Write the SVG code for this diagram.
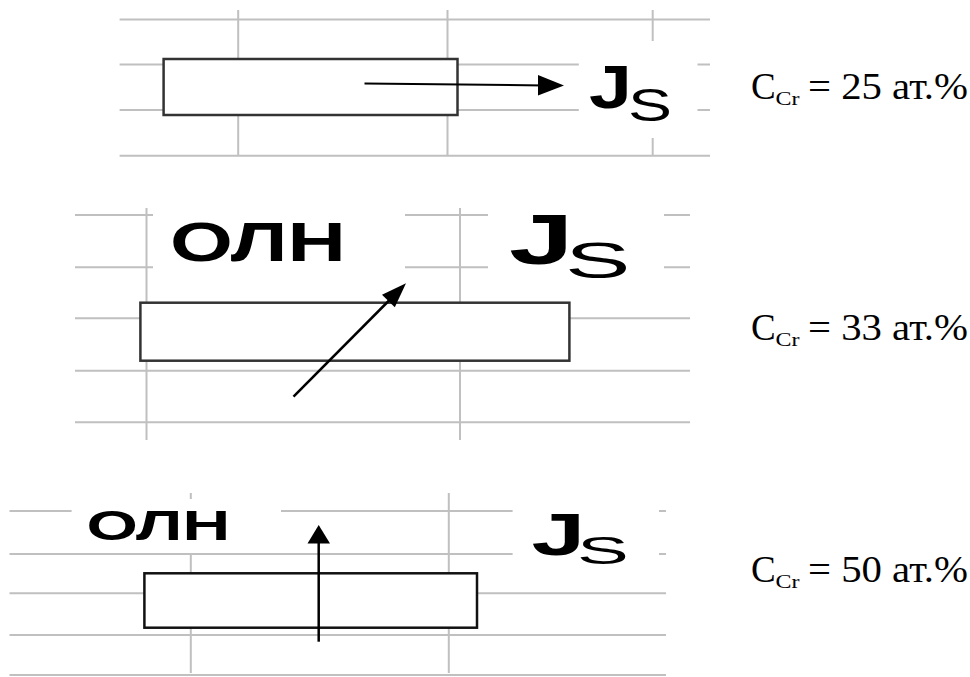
<svg xmlns="http://www.w3.org/2000/svg" width="970" height="677" viewBox="0 0 970 677">
<style>
.g{stroke:#c0c0c0;stroke-width:2;fill:none}
.box{fill:#fff;stroke:#333;stroke-width:2.5}
.ln{stroke:#000;stroke-width:2.5;fill:none}
.hd{fill:#000}
.j{font-family:"Liberation Sans",Arial,sans-serif;font-weight:bold;fill:#000}
.s{font-family:"Liberation Sans",Arial,sans-serif;fill:#000}
.t{font-family:"Liberation Serif","Times New Roman",serif;fill:#000}
</style>
<rect width="970" height="677" fill="#fff"/>
<g id="grid1">
<path class="g" d="M119.6 19.5H710M119.6 64.5H578.8M697.5 64.5H710M119.6 110H578.8M697.5 110H710M119.6 155.7H710M238.2 10V155.7M447.5 10V155.7M652.7 10V41M652.7 138V155.7"/>
</g>
<g id="grid2">
<path class="g" d="M75 215H153M405 215H488M664 215H690M75 267.3H153M405 267.3H488M664 267.3H690M75 318.3H690M75 370.7H690M75 422.3H690M146.5 208V440M460 208V440"/>
</g>
<g id="grid3">
<path class="g" d="M9.5 511H71.6M281 511H512.6M659 511H666M9.5 554H512.6M659 554H666M9.5 593.3H666M9.5 635H666M9.5 675H666M190.8 493V499M190.8 554V673M448.8 493V673"/>
</g>
<g id="panel1">
<rect class="box" x="163.6" y="59" width="293.9" height="56"/>
<text class="j" x="589" y="108" font-size="61" textLength="43" lengthAdjust="spacingAndGlyphs">J</text>
<text class="s" x="628" y="121" font-size="46" textLength="44" lengthAdjust="spacingAndGlyphs">S</text>
</g>
<g id="panel2">
<rect class="box" x="140.4" y="302.7" width="429" height="58"/>
<text class="j" x="170" y="261" font-size="55" textLength="176" lengthAdjust="spacingAndGlyphs">ОЛН</text>
<text class="j" x="509" y="264" font-size="70" textLength="64.6" lengthAdjust="spacingAndGlyphs">J</text>
<text class="s" x="565" y="278" font-size="50" textLength="65.5" lengthAdjust="spacingAndGlyphs">S</text>
</g>
<g id="panel3">
<rect class="box" x="144.4" y="573.3" width="332.6" height="54.4" style="stroke:#111"/>
<text class="j" x="86.4" y="540" font-size="42" textLength="143.8" lengthAdjust="spacingAndGlyphs">ОЛН</text>
<text class="j" x="531.5" y="555" font-size="58.7" textLength="53.8" lengthAdjust="spacingAndGlyphs">J</text>
<text class="s" x="577" y="564" font-size="39" textLength="51.8" lengthAdjust="spacingAndGlyphs">S</text>
</g>
<g id="connectors">
<path class="ln" d="M364.5 83.5L545 85.5" style="stroke-width:2"/>
<polygon class="hd" points="538,75 564,85.5 538,95.5"/>
<path class="ln" d="M293.5 396.7L395 294.5"/>
<polygon class="hd" points="406,283.3 394.8,307.3 382,294.7"/>
<path class="ln" d="M318.7 641.7V538"/>
<polygon class="hd" points="318.7,525 307.5,543.5 330,543.5"/>
</g>
<g id="labels">
<text class="t" x="751" y="99" font-size="37">C</text>
<text class="t" x="775.5" y="105" font-size="18" textLength="24" lengthAdjust="spacingAndGlyphs">Cr</text>
<text class="t" x="808" y="99" font-size="38" textLength="160" lengthAdjust="spacingAndGlyphs">= 25 ат.%</text>
<text class="t" x="751" y="340" font-size="37">C</text>
<text class="t" x="775.5" y="346" font-size="18" textLength="24" lengthAdjust="spacingAndGlyphs">Cr</text>
<text class="t" x="808" y="340" font-size="38" textLength="160" lengthAdjust="spacingAndGlyphs">= 33 ат.%</text>
<text class="t" x="751" y="582" font-size="37">C</text>
<text class="t" x="775.5" y="588" font-size="18" textLength="24" lengthAdjust="spacingAndGlyphs">Cr</text>
<text class="t" x="808" y="582" font-size="38" textLength="160" lengthAdjust="spacingAndGlyphs">= 50 ат.%</text>
</g>
</svg>
